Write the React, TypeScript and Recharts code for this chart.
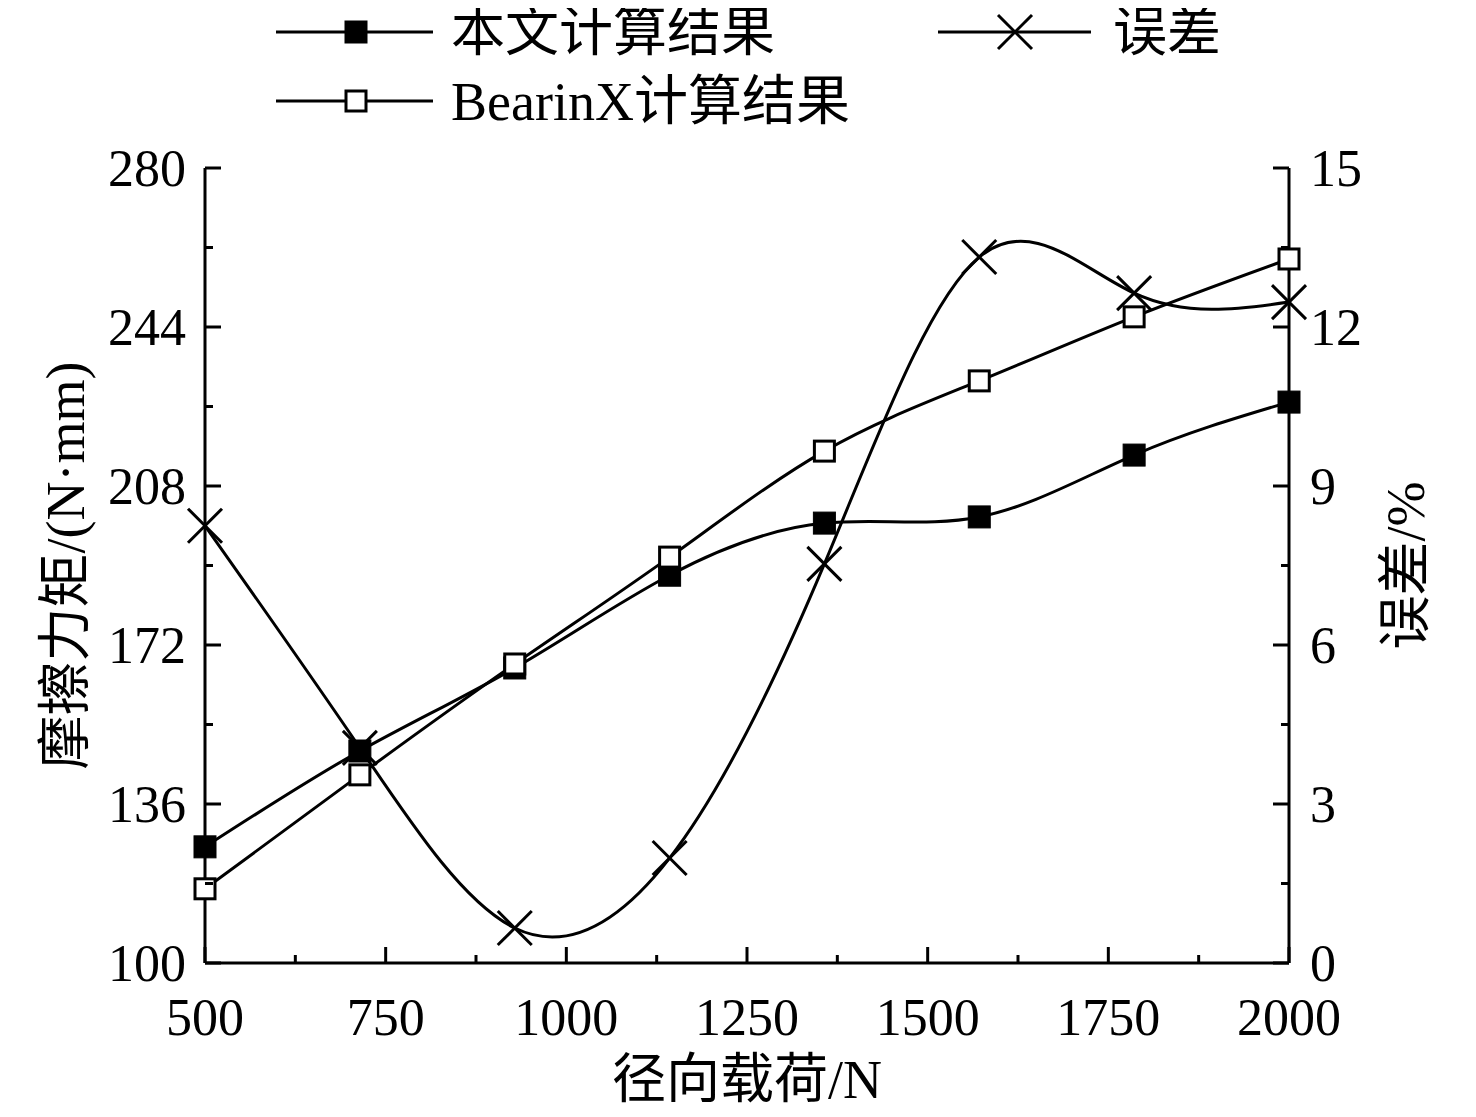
import React from "react";
import { ComposedChart, Line, XAxis, YAxis } from "recharts";

// 径向载荷 vs 摩擦力矩 / 误差
const loads = [500, 714.3, 928.6, 1142.9, 1357.1, 1571.4, 1785.7, 2000];
const ourTorque = [126.3, 148.0, 166.8, 187.8, 199.6, 201.0, 215.0, 227.0];
const bearinxTorque = [116.8, 142.6, 167.7, 191.9, 215.9, 231.8, 246.3, 259.4];
const errorPct = [8.25, 4.06, 0.66, 1.98, 7.53, 13.32, 12.64, 12.47];

const xTicks = [500, 625, 750, 875, 1000, 1125, 1250, 1375, 1500, 1625, 1750, 1875, 2000];
const leftTicks = [100, 118, 136, 154, 172, 190, 208, 226, 244, 262, 280];
const rightTicks = [0, 1.5, 3, 4.5, 6, 7.5, 9, 10.5, 12, 13.5, 15];

const FONT = "'Liberation Serif', 'Times New Roman', 'Noto Sans CJK SC', serif";
const SW = 3;

const data = loads.map((load, i) => ({
  load,
  our: ourTorque[i],
  bx: bearinxTorque[i],
  err: errorPct[i],
}));

// markers
const FilledSq = ({ cx, cy }: any) => (
  <rect x={cx - 11} y={cy - 11} width={22} height={22} fill="#000" stroke="#000" strokeWidth={1} />
);
const OpenSq = ({ cx, cy }: any) => (
  <rect x={cx - 10} y={cy - 10} width={20} height={20} fill="#fff" stroke="#000" strokeWidth={SW} />
);
const Cross = ({ cx, cy }: any) => (
  <g stroke="#000" strokeWidth={SW}>
    <line x1={cx - 17} y1={cy - 17} x2={cx + 17} y2={cy + 17} />
    <line x1={cx - 17} y1={cy + 17} x2={cx + 17} y2={cy - 17} />
  </g>
);

// ticks drawn by hand so they point inward, with short minor ticks
const XTick = ({ x, y, payload }: any) => {
  const major = payload.value % 250 === 0;
  return (
    <g>
      <line x1={x} x2={x} y1={y} y2={y - (major ? 16 : 8)} stroke="#000" strokeWidth={SW} />
      {major && (
        <text x={x} y={y + 72} textAnchor="middle" fontSize={52} fontFamily={FONT} fill="#000">
          {payload.value}
        </text>
      )}
    </g>
  );
};
const LeftTick = ({ x, y, payload }: any) => {
  const major = (payload.value - 100) % 36 === 0;
  return (
    <g>
      <line x1={x} x2={x + (major ? 16 : 8)} y1={y} y2={y} stroke="#000" strokeWidth={SW} />
      {major && (
        <text x={x - 19} y={y} dy="0.34em" textAnchor="end" fontSize={52} fontFamily={FONT} fill="#000">
          {payload.value}
        </text>
      )}
    </g>
  );
};
const RightTick = ({ x, y, payload }: any) => {
  const major = payload.value % 3 === 0;
  return (
    <g>
      <line x1={x} x2={x - (major ? 16 : 8)} y1={y} y2={y} stroke="#000" strokeWidth={SW} />
      {major && (
        <text x={x + 21} y={y} dy="0.34em" textAnchor="start" fontSize={52} fontFamily={FONT} fill="#000">
          {payload.value}
        </text>
      )}
    </g>
  );
};

const VTitle = ({ cx, cy, text }: { cx: number; cy: number; text: string }) => (
  <text x={cx} y={cy} dy="0.36em" transform={`rotate(-90 ${cx} ${cy})`} textAnchor="middle"
    fontSize={54} fontFamily={FONT} fill="#000">{text}</text>
);

const Legend = () => (
  <svg width={1460} height={140} overflow="visible" style={{ position: "absolute", left: 0, top: 0, overflow: "visible" }}>
    <g stroke="#000" strokeWidth={SW}>
      <line x1={268} x2={425} y1={24} y2={24} />
      <line x1={930} x2={1083} y1={24} y2={24} />
      <line x1={268} x2={425} y1={93} y2={93} />
    </g>
    <FilledSq cx={348} cy={24} />
    <Cross cx={1007} cy={24} />
    <OpenSq cx={348} cy={93} />
    <g fontSize={54} fontFamily={FONT} fill="#000">
      <text x={443} y={24} dy="0.36em">本文计算结果</text>
      <text x={1105} y={24} dy="0.36em">误差</text>
      <text x={443} y={93} dy="0.36em">BearinX计算结果</text>
    </g>
  </svg>
);

export default function App() {
  const axisLine = { stroke: "#000", strokeWidth: SW };
  return (
    <div style={{ position: "relative", width: 1460, height: 1109 }}>
      <ComposedChart width={1460} height={1109} data={data} margin={{ top: 160, right: 0, bottom: 0, left: 0 }}>
        <XAxis
          dataKey="load" type="number" domain={[500, 2000]} ticks={xTicks} interval={0}
          height={154} axisLine={axisLine} tickLine={false} tickSize={0} tickMargin={0} tick={<XTick />}
          label={(p: any) => <text x={p.viewBox.x + p.viewBox.width / 2} y={p.viewBox.y + 116} dy="0.36em"
            textAnchor="middle" fontSize={54} fontFamily={FONT} fill="#000">径向载荷/N</text>}
        />
        <YAxis
          yAxisId="left" orientation="left" domain={[100, 280]} ticks={leftTicks} interval={0}
          width={197} axisLine={axisLine} tickLine={false} tickSize={0} tickMargin={0} tick={<LeftTick />}
          label={(p: any) => <VTitle cx={57} cy={p.viewBox.y + p.viewBox.height / 2} text="摩擦力矩/(N·mm)" />}
        />
        <YAxis
          yAxisId="right" orientation="right" domain={[0, 15]} ticks={rightTicks} interval={0}
          width={179} axisLine={axisLine} tickLine={false} tickSize={0} tickMargin={0} tick={<RightTick />}
          label={(p: any) => <VTitle cx={p.viewBox.x + 116} cy={p.viewBox.y + p.viewBox.height / 2} text="误差/%" />}
        />
        <Line yAxisId="left" type="natural" dataKey="our" stroke="#000" strokeWidth={SW}
          dot={(p: any) => <FilledSq key={`o${p.index}`} cx={p.cx} cy={p.cy} />} activeDot={false} isAnimationActive={false} />
        <Line yAxisId="left" type="natural" dataKey="bx" stroke="#000" strokeWidth={SW}
          dot={(p: any) => <OpenSq key={`b${p.index}`} cx={p.cx} cy={p.cy} />} activeDot={false} isAnimationActive={false} />
        <Line yAxisId="right" type="natural" dataKey="err" stroke="#000" strokeWidth={SW}
          dot={(p: any) => <Cross key={`e${p.index}`} cx={p.cx} cy={p.cy} />} activeDot={false} isAnimationActive={false} />
      </ComposedChart>
      <Legend />
    </div>
  );
}
